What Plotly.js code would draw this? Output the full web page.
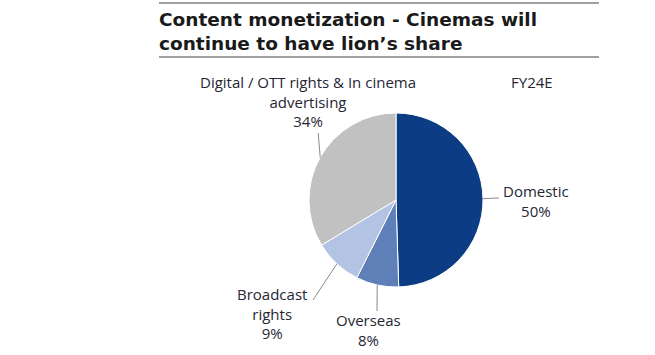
<!DOCTYPE html>
<html><head><meta charset="utf-8">
<script src="https://cdn.plot.ly/plotly-3.0.1.min.js"></script>
<style>html,body{margin:0;padding:0;background:#fff}#c{width:655px;height:355px}</style>
</head><body><div id="c"></div>
<script>
const categories = ["Domestic", "Overseas", "Broadcast rights", "Digital / OTT rights & In cinema advertising"];
const shares = [50, 8, 9, 34];
const labelText = ["Domestic<br>50%", "Overseas<br>8%", "Broadcast<br>rights<br>9%", "Digital / OTT rights & In cinema<br>advertising<br>34%"];
const colors = ["#0c3c84", "#5f7fb8", "#b3c3e3", "#c1c1c1"];
const yearLabel = "FY24E";
const titleLines = ["Content monetization - Cinemas will", "continue to have lion\u2019s share"];

const W = 655, H = 355;
const cx = 396, cy = 200, R = 87;
const px = x => x / W, py = y => 1 - y / H;

// leader line end points and label anchors (pixels)
const leaderEnd = [[499, 198], [377, 311], [313, 300], [null, 133]];
const labelPos = [[536, 201], [368, 330], [272, 313], [308, 101]];

const total = shares.reduce((a, b) => a + b, 0);
let cum = 0;
const shapes = [
  {type: 'line', xref: 'paper', yref: 'paper', x0: px(159), x1: px(599), y0: py(3), y1: py(3), line: {color: '#a0a0a0', width: 2}},
  {type: 'line', xref: 'paper', yref: 'paper', x0: px(159), x1: px(599), y0: py(57), y1: py(57), line: {color: '#a0a0a0', width: 2}}
];
const labelFont = {family: 'Open Sans, sans-serif', size: 15, color: '#262633'};
const annotations = [];
shares.forEach((v, i) => {
  const mid = (cum + v / 2) / total * 2 * Math.PI;
  cum += v;
  const sx = cx + R * Math.sin(mid), sy = cy - R * Math.cos(mid);
  const ex = leaderEnd[i][0] === null ? sx - 2 : leaderEnd[i][0];
  const ey = leaderEnd[i][1];
  shapes.push({type: 'line', xref: 'paper', yref: 'paper', x0: px(sx), y0: py(sy), x1: px(ex), y1: py(ey), line: {color: '#8a8a8a', width: 1}});
  annotations.push({xref: 'paper', yref: 'paper', x: px(labelPos[i][0]), y: py(labelPos[i][1]), xanchor: 'center', yanchor: 'middle', align: 'center', showarrow: false, text: labelText[i], font: labelFont});
});
annotations.push({xref: 'paper', yref: 'paper', x: px(532), y: py(82), xanchor: 'center', yanchor: 'middle', showarrow: false, text: yearLabel, font: labelFont});
annotations.push({xref: 'paper', yref: 'paper', x: px(157), y: py(32), xanchor: 'left', yanchor: 'middle', align: 'left', showarrow: false, text: '<b>' + titleLines.join('<br>') + '</b>', font: {family: 'DejaVu Sans, sans-serif', size: 18.5, color: '#1a1a1a'}});

const trace = {
  type: 'pie', values: shares, labels: categories, sort: false, direction: 'clockwise', rotation: 0,
  marker: {colors: colors, line: {color: '#ffffff', width: 1}},
  textinfo: 'none', hoverinfo: 'label+percent', showlegend: false,
  domain: {x: [px(cx - R), px(cx + R)], y: [py(cy + R), py(cy - R)]}
};
Plotly.newPlot('c', [trace], {
  width: W, height: H, margin: {l: 0, r: 0, t: 0, b: 0},
  paper_bgcolor: '#fff', showlegend: false, shapes: shapes, annotations: annotations
}, {staticPlot: true});
</script></body></html>
